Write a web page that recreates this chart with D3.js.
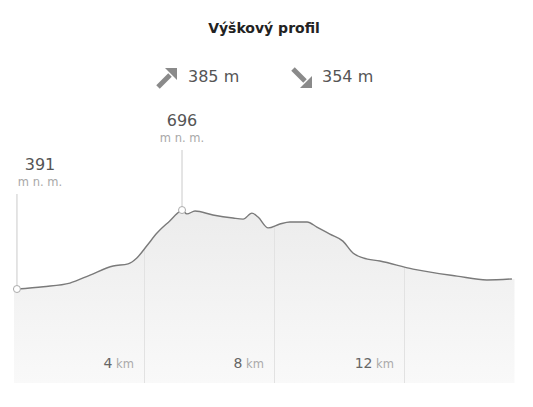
<!DOCTYPE html>
<html><head><meta charset="utf-8">
<script src="https://cdn.jsdelivr.net/npm/d3@7"></script>
<style>body{margin:0;background:#fff;font-family:"DejaVu Sans",Verdana,sans-serif;}</style>
</head><body><svg id="c" width="533" height="407"></svg>
<script>
const distKm = [0.09,0.9,1.72,2.34,3.05,3.51,3.78,4.1,4.40,4.8,5.11,5.17,5.32,5.57,6.12,6.74,7.05,7.32,7.51,7.82,8.18,8.49,9.02,9.32,9.72,10.12,10.43,10.74,11.26,12.28,13.63,14.55,15.32];
const elevM  = [391,400,414,445,480,488,511,560,607,655,692,696,681,692,677,665,661,684,669,627,642,650,650,630,603,576,530,511,499,468,441,426,430];
const kmTicks = [4,8,12];
const ascentM = 385, descentM = 354;
const title = "Výškový profil";

const svg = d3.select("#c");
const left = 14, right = 514.5, bottom = 383;
const x = d3.scaleLinear().domain([0,15.4]).range([left,right]);
const y = d3.scaleLinear().domain([0,1000]).range([390.3,131.3]);
const pts = distKm.map((d,i)=>({d, e:elevM[i]}));

const defs = svg.append("defs");
const g = defs.append("linearGradient").attr("id","fillg").attr("x1",0).attr("y1",0).attr("x2",0).attr("y2",1);
g.append("stop").attr("offset","0%").attr("stop-color","#ececec");
g.append("stop").attr("offset","100%").attr("stop-color","#f9f9f9");

const area = d3.area().x(p=>x(p.d)).y0(bottom).y1(p=>y(p.e)).curve(d3.curveMonotoneX);
const areaPts = [{d:0,e:elevM[0]-2}].concat(pts).concat([{d:15.4,e:elevM[elevM.length-1]}]);
defs.append("clipPath").attr("id","ac").append("path").attr("d", area(areaPts));
svg.append("path").attr("d", area(areaPts)).attr("fill","url(#fillg)");

// grid lines
svg.append("g").attr("clip-path","url(#ac)").selectAll("line").data(kmTicks).join("line")
  .attr("x1",d=>Math.round(x(d))+0.5).attr("x2",d=>Math.round(x(d))+0.5)
  .attr("y1",150).attr("y2",bottom).attr("stroke","#e2e2e2").attr("stroke-width",1);

// km labels
kmTicks.forEach(k=>{
  const t = svg.append("text").attr("x", x(k)-10).attr("y",368).attr("text-anchor","end");
  t.append("tspan").text(k).attr("font-size","14px").attr("fill","#666");
  t.append("tspan").text(" km").attr("font-size","11.5px").attr("fill","#aaa");
});

// profile line
const line = d3.line().x(p=>x(p.d)).y(p=>y(p.e)).curve(d3.curveMonotoneX);
svg.append("path").attr("d", line(pts)).attr("fill","none").attr("stroke","#7a7a7a").attr("stroke-width",1.4);

// markers
const iMax = d3.maxIndex(elevM);
const marks = [{i:0, top:194}, {i:iMax, top:150}];
marks.forEach(m=>{
  const mx = x(distKm[m.i]), my = y(elevM[m.i]);
  svg.append("line").attr("x1",mx).attr("x2",mx).attr("y1",m.top).attr("y2",my-3)
    .attr("stroke","#dcdcdc").attr("stroke-width",1.5);
  svg.append("circle").attr("cx",mx).attr("cy",my).attr("r",3.5)
    .attr("fill","#fff").attr("stroke","#aaa").attr("stroke-width",1);
  const cx = Math.max(mx, left+26);
  svg.append("text").attr("x",cx).attr("y",m.top-24).attr("text-anchor","middle")
    .attr("font-size","16px").attr("fill","#555").text(elevM[m.i]);
  svg.append("text").attr("x",cx).attr("y",m.top-8).attr("text-anchor","middle")
    .attr("font-size","11.5px").attr("fill","#a8a8a8").text("m n. m.");
});

// title
svg.append("text").attr("x",264).attr("y",33).attr("text-anchor","middle")
  .attr("font-size","14px").attr("font-weight","bold").attr("fill","#222").text(title);

// arrows
function arrow(cx, cy, up){
  const s = up ? -1 : 1;
  const gA = svg.append("g").attr("transform",`translate(${cx},${cy}) scale(1,${s})`);
  gA.append("line").attr("x1",-9).attr("y1",-9).attr("x2",3).attr("y2",3)
    .attr("stroke","#8a8a8a").attr("stroke-width",5);
  gA.append("path").attr("d","M10,10 L-2,10 L10,-2 Z").attr("fill","#8a8a8a");
}
arrow(167,78,true);
arrow(302,78,false);
svg.append("text").attr("x",188).attr("y",82).attr("font-size","16px").attr("fill","#555").text(ascentM+" m");
svg.append("text").attr("x",322).attr("y",82).attr("font-size","16px").attr("fill","#555").text(descentM+" m");
</script></body></html>
